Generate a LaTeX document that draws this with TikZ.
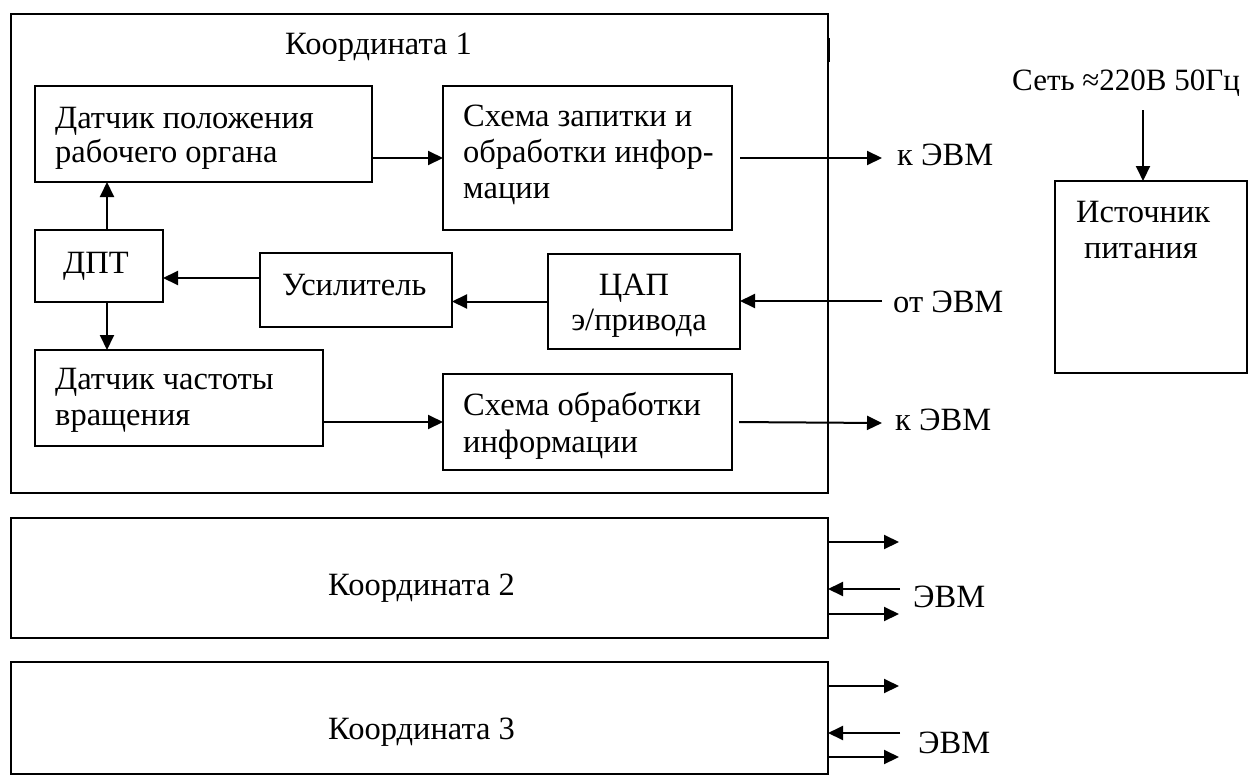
\documentclass[tikz,border=0pt]{standalone}
\usepackage{fontspec}
\setmainfont{Liberation Serif}
\usetikzlibrary{arrows.meta}
\tikzset{
  blk/.style={draw, line width=2pt, inner sep=0pt, outer sep=0pt},
  txt/.style={inner sep=0pt, anchor=base west, font=\fontsize{32.5}{38}\selectfont},
  ctxt/.style={inner sep=0pt, anchor=base, font=\fontsize{32.5}{38}\selectfont},
  arr/.style={-{Triangle[length=15pt,width=14pt]}, line width=2pt},
  ln/.style={line width=2pt}
}
\begin{document}
\begin{tikzpicture}[x=1pt,y=-1pt]
\useasboundingbox (0,0) rectangle (1252,776);
% outer boxes
\node[blk, minimum width=817pt, minimum height=479pt] (k1) at (419.5,253.5) {};
\node[blk, minimum width=817pt, minimum height=120pt] (k2) at (419.5,578) {};
\node[blk, minimum width=817pt, minimum height=112pt] (k3) at (419.5,718) {};
\draw[line width=1.6pt] (829,38) -- (829,62);
% inner boxes
\node[blk, minimum width=337pt, minimum height=96pt] (d1) at (203.5,134) {};
\node[blk, minimum width=289pt, minimum height=144pt] (s1) at (587.5,158) {};
\node[blk, minimum width=128pt, minimum height=72pt] (dpt) at (99,266) {};
\node[blk, minimum width=192pt, minimum height=74pt] (amp) at (356,290) {};
\node[blk, minimum width=192pt, minimum height=95pt] (dac) at (644,301.5) {};
\node[blk, minimum width=288pt, minimum height=96pt] (d2) at (179,398) {};
\node[blk, minimum width=289pt, minimum height=96pt] (s2) at (587.5,422) {};
\node[blk, minimum width=192pt, minimum height=192pt] (ist) at (1151,277) {};
% texts
\node[txt] (t1) at (285,55) {Координата 1};
\node[txt] (td1a) at (55,128) {Датчик положения};
\node[txt] (td1b) at (55,162) {рабочего органа};
\node[txt] (ts1a) at (463,126) {Схема запитки и};
\node[txt] (ts1b) at (463,162) {обработки инфор-};
\node[txt] (ts1c) at (463,198) {мации};
\node[txt] (tdpt) at (63,273) {ДПТ};
\node[txt] (tamp) at (282,295) {Усилитель};
\node[ctxt] (tdaca) at (634,295) {ЦАП};
\node[ctxt] (tdacb) at (639,330) {э/привода};
\node[txt] (td2a) at (55,389) {Датчик частоты};
\node[txt] (td2b) at (55,425) {вращения};
\node[txt] (ts2a) at (463,415) {Схема обработки};
\node[txt] (ts2b) at (463,452) {информации};
\node[txt] (ke1) at (897,165) {к ЭВМ};
\node[txt] (oe) at (893,312) {от ЭВМ};
\node[txt] (ke2) at (895,430) {к ЭВМ};
\node[txt, font=\fontsize{31}{36}\selectfont] (set) at (1012,90) {Сеть ≈220В 50Гц};
\node[txt] (tista) at (1076,222) {Источник};
\node[txt] (tistb) at (1084,258) {питания};
\node[txt] (t2) at (328,595) {Координата 2};
\node[txt] (t3) at (328,739) {Координата 3};
\node[txt] (e2) at (913,607) {ЭВМ};
\node[txt] (e3) at (918,753) {ЭВМ};
% free ends
\coordinate (k1end) at (882,158);
\coordinate (otend) at (882,301);
\coordinate (k2end) at (882,423);
\coordinate (setend) at (1143,110);
\coordinate (a2) at (899,542);
\coordinate (b2) at (900,589);
\coordinate (c2) at (899,614);
\coordinate (a3) at (899,686);
\coordinate (b3) at (900,733);
\coordinate (c3) at (899,757);
% connectors
\draw[arr] (s1.west -| d1.east) -- (s1.west);
\draw[arr, shorten <=8pt] (s1.east) -- (k1end);
\draw[arr] ([xshift=8pt]dpt.north) -- ([xshift=8pt]dpt.north |- d1.south);
\draw[arr] ([xshift=8pt]dpt.south) -- ([xshift=8pt]dpt.south |- d2.north);
\draw[arr] ([yshift=12pt]amp.west) -- ([yshift=12pt]amp.west -| dpt.east);
\draw[arr] (dac.west) -- (dac.west -| amp.east);
\draw[arr] (otend) -- (otend -| dac.east);
\draw[arr] (s2.west -| d2.east) -- (s2.west);
\draw[arr, shorten <=7pt] (s2.east) -- (k2end);
\draw[arr] (setend) -- (setend |- ist.north);
\draw[arr] (a2 -| k2.east) -- (a2);
\draw[arr] (b2) -- (b2 -| k2.east);
\draw[arr] (c2 -| k2.east) -- (c2);
\draw[arr] (a3 -| k3.east) -- (a3);
\draw[arr] (b3) -- (b3 -| k3.east);
\draw[arr] (c3 -| k3.east) -- (c3);
\end{tikzpicture}
\end{document}
